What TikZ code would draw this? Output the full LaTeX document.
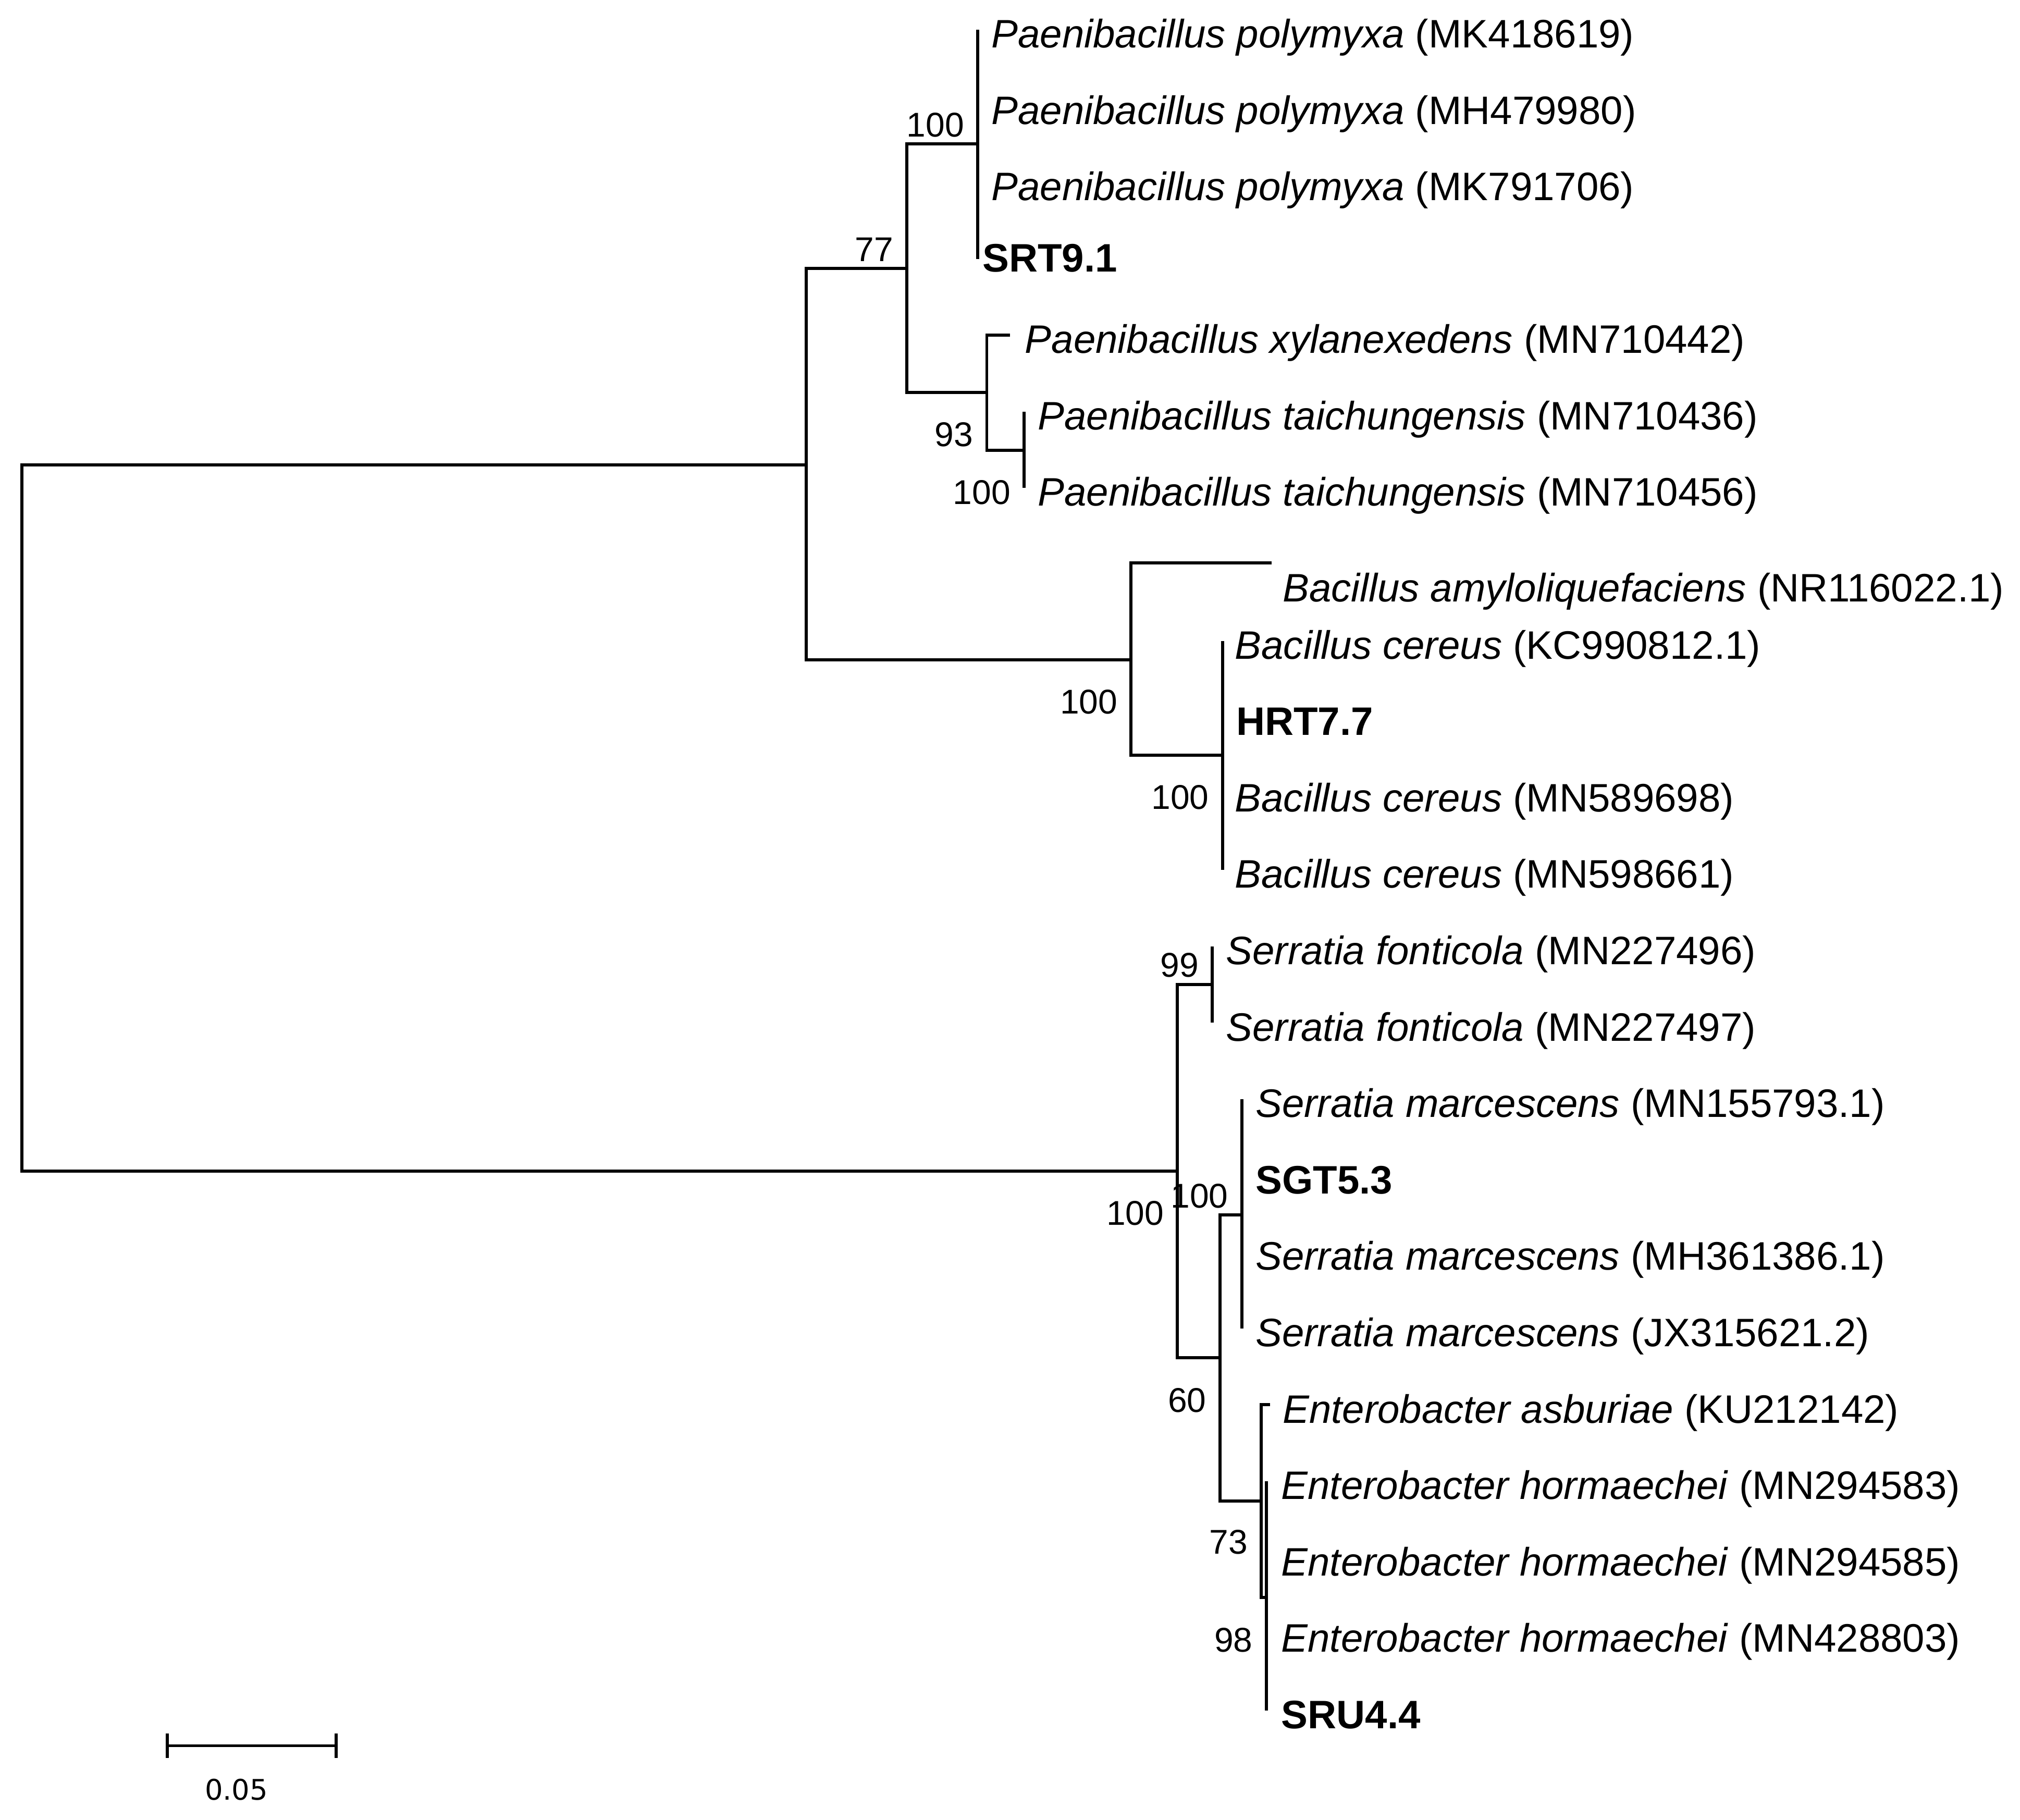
\documentclass[tikz,border=0pt]{standalone}
\usepackage{fontspec}
\setmainfont{Liberation Sans}
\newfontfamily\barfont{DejaVu Sans}
\usepackage{tikz}

\begin{document}
\begin{tikzpicture}[x=0.3pt, y=-0.3pt,
        taxon/.style={anchor=base west, inner sep=0pt, font=\fontsize{9.25}{11}\selectfont},
        bs/.style={anchor=base east, inner sep=0pt, font=\fontsize{8}{10}\selectfont},
        br/.style={line width=0.72pt}]
        \useasboundingbox (0,0) rectangle (1568,1412.6);

        % inner nodes of the tree
        \coordinate (root) at (17, 635);
        \coordinate (nA) at (626, 361);
        \coordinate (nB) at (704, 208.5);
        \coordinate (nC) at (759, 111.5);
        \coordinate (nD) at (766, 304.5);
        \coordinate (nE) at (795, 349.5);
        \coordinate (nF) at (878, 512);
        \coordinate (nG) at (949, 586);
        \coordinate (nH) at (914, 909);
        \coordinate (nI) at (941, 764);
        \coordinate (nJ) at (947, 1054);
        \coordinate (nK) at (964, 943);
        \coordinate (nL) at (979, 1165);
        \coordinate (nM) at (983, 1240);

        % tips
        \coordinate (tpp1) at (759, 23);
        \coordinate (tsrt) at (759, 201);
        \coordinate (tpx) at (784, 260.2);
        \coordinate (tpt1) at (795, 319.5);
        \coordinate (tpt2) at (795, 378.8);
        \coordinate (tba) at (987, 437);
        \coordinate (tbc1) at (949, 497.4);
        \coordinate (tbc3) at (949, 675.3);
        \coordinate (tsf1) at (941, 734.6);
        \coordinate (tsf2) at (941, 793.9);
        \coordinate (tsm1) at (964, 853.2);
        \coordinate (tsm3) at (964, 1031.1);
        \coordinate (tea) at (986, 1090.4);
        \coordinate (teh1) at (983, 1149.7);
        \coordinate (tsru) at (983, 1327.6);

        % taxa
        \node[taxon] (pp1) at (769, 37) {\textit{Paenibacillus polymyxa} (MK418619)};
        \node[taxon] (pp2) at (769, 96.3) {\textit{Paenibacillus polymyxa} (MH479980)};
        \node[taxon] (pp3) at (769, 155.6) {\textit{Paenibacillus polymyxa} (MK791706)};
        \node[taxon] (srt) at (762, 211) {\textbf{SRT9.1}};
        \node[taxon] (px) at (795, 274.2) {\textit{Paenibacillus xylanexedens} (MN710442)};
        \node[taxon] (pt1) at (805, 333.5) {\textit{Paenibacillus taichungensis} (MN710436)};
        \node[taxon] (pt2) at (805, 392.8) {\textit{Paenibacillus taichungensis} (MN710456)};
        \node[taxon] (ba) at (995, 467) {\textit{Bacillus amyloliquefaciens} (NR116022.1)};
        \node[taxon] (bc1) at (958, 511.4) {\textit{Bacillus cereus} (KC990812.1)};
        \node[taxon] (hrt) at (959, 570.7) {\textbf{HRT7.7}};
        \node[taxon] (bc2) at (958, 630) {\textit{Bacillus cereus} (MN589698)};
        \node[taxon] (bc3) at (958, 689.3) {\textit{Bacillus cereus} (MN598661)};
        \node[taxon] (sf1) at (951, 748.6) {\textit{Serratia fonticola} (MN227496)};
        \node[taxon] (sf2) at (951, 807.9) {\textit{Serratia fonticola} (MN227497)};
        \node[taxon] (sm1) at (974, 867.2) {\textit{Serratia marcescens} (MN155793.1)};
        \node[taxon] (sgt) at (974, 926.5) {\textbf{SGT5.3}};
        \node[taxon] (sm2) at (974, 985.8) {\textit{Serratia marcescens} (MH361386.1)};
        \node[taxon] (sm3) at (974, 1045.1) {\textit{Serratia marcescens} (JX315621.2)};
        \node[taxon] (ea) at (995, 1104.4) {\textit{Enterobacter asburiae} (KU212142)};
        \node[taxon] (eh1) at (994, 1163.7) {\textit{Enterobacter hormaechei} (MN294583)};
        \node[taxon] (eh2) at (994, 1223) {\textit{Enterobacter hormaechei} (MN294585)};
        \node[taxon] (eh3) at (994, 1282.3) {\textit{Enterobacter hormaechei} (MN428803)};
        \node[taxon] (sru) at (994, 1341.6) {\textbf{SRU4.4}};

        % branches
        \draw[br] (root) |- (nA) (root) |- (nH)
            (nA) |- (nB) (nA) |- (nF)
            (nB) |- (nC) (nB) |- (nD)
            (nC) |- (tpp1) (nC) |- (tsrt)
            (nD) |- (tpx) (nD) |- (nE)
            (nE) |- (tpt1) (nE) |- (tpt2)
            (nF) |- (tba) (nF) |- (nG)
            (nG) |- (tbc1) (nG) |- (tbc3)
            (nH) |- (nI) (nH) |- (nJ)
            (nI) |- (tsf1) (nI) |- (tsf2)
            (nJ) |- (nK) (nJ) |- (nL)
            (nK) |- (tsm1) (nK) |- (tsm3)
            (nL) |- (tea) (nL) |- (nM)
            (nM) |- (teh1) (nM) |- (tsru);

        % bootstrap values
        \node[bs] (bsC) at (749, 106) {100};
        \node[bs] (bsB) at (694, 203) {77};
        \node[bs] (bsD) at (756, 346.5) {93};
        \node[bs] (bsE) at (785, 391.5) {100};
        \node[bs] (bsF) at (868, 554) {100};
        \node[bs] (bsG) at (939, 628) {100};
        \node[bs] (bsH) at (904, 951) {100};
        \node[bs] (bsI) at (931, 758.5) {99};
        \node[bs] (bsJ) at (937, 1096) {60};
        \node[bs] (bsK) at (954, 937.5) {100};
        \node[bs] (bsL) at (969, 1206) {73};
        \node[bs] (bsM) at (973, 1282) {98};

        % scale bar
        \coordinate (sbl) at (130, 1355);
        \coordinate (sbr) at (261, 1355);
        \draw[br] (sbl) -- (sbr);
        \draw[br] (sbl) ++(0,-9.5) -- ++(0,19);
        \draw[br] (sbr) ++(0,-9.5) -- ++(0,19);
        \node[font=\barfont\fontsize{6.6}{8}\selectfont] (sblab) at (183.5, 1389) {0.05};
\end{tikzpicture}
\end{document}
